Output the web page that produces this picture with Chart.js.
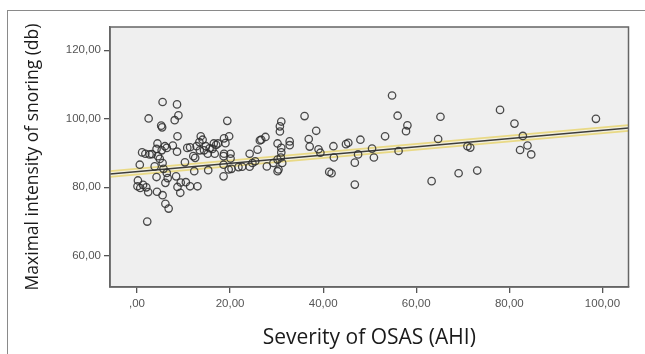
<!DOCTYPE html>
<html>
<head>
<meta charset="utf-8">
<script src="https://cdn.jsdelivr.net/npm/chart.js@4/dist/chart.umd.min.js"></script>
<style>
  html, body { margin: 0; padding: 0; background: #fff; }
  #chart { display: block; }
</style>
</head>
<body>
<canvas id="chart" width="645" height="354"></canvas>
<script>
// AHI (x) vs maximal snoring intensity in dB (y)
const AHI = [
  5.5, 8.6, 8.9, 2.5, 5.2, 5.4, 8.1, 8.7, 8.6, 7.7, 4.4, 6.0, 6.4, 5.3, 4.2, 4.5, 4.9,
  1.1, 1.8, 2.7, 3.2, 0.6, 3.8, 5.5, 5.7, 6.4, 4.2, 6.6, 8.4, 6.1, 0.2, 0.1, 0.7, 1.3,
  2.0, 2.4, 4.3, 5.5, 6.1, 6.8, 2.2, 8.7, 9.4, 9.3, 10.5, 11.4, 13.0, 10.3, 10.8, 11.4,
  12.1, 12.5, 12.8, 13.4, 13.7, 14.1, 13.5, 14.4, 14.8, 15.2, 15.6, 16.2, 16.5, 17.0,
  16.7, 15.3, 12.3, 17.4,
  19.4, 19.8, 18.7, 19.0, 18.7, 20.1, 20.1, 18.6, 18.6, 18.6, 19.7, 20.3, 22.6, 24.2,
  24.2, 24.8, 25.4, 25.9, 26.4, 27.6, 27.9, 30.2, 30.7, 30.7, 31.0, 30.2, 30.4, 30.2,
  31.0, 30.9, 31.2, 32.8, 32.8, 29.3, 21.8, 26.7, 31.0,
  36.0, 38.5, 36.9, 37.1, 39.4, 39.0, 41.3, 41.8, 42.2, 42.3, 44.9, 45.4, 48.0, 46.8,
  47.5, 46.8, 50.5, 50.9, 53.3, 54.8, 56.0, 56.2, 58.1, 57.8, 63.3, 64.7, 65.2, 69.1,
  71.0, 71.6, 73.1, 78.0, 81.1, 82.9, 82.3, 83.9, 84.7, 98.6
];
const SNORE_DB = [
  104.9, 104.2, 101.0, 100.1, 98.0, 97.5, 99.6, 94.9, 90.4, 92.2, 92.8, 92.0, 91.5, 90.8, 91.2, 89.1, 88.3,
  90.2, 89.8, 89.6, 89.7, 86.6, 86.1, 87.1, 85.4, 84.2, 83.0, 82.7, 83.2, 81.3, 82.0, 80.3, 79.8, 80.7,
  80.0, 78.6, 78.7, 77.7, 75.2, 73.8, 70.0, 80.1, 81.4, 78.4, 81.5, 80.3, 80.3, 87.3, 91.5, 91.7,
  89.1, 88.6, 92.0, 93.2, 94.9, 93.9, 90.8, 90.8, 92.0, 89.8, 91.4, 91.2, 92.8, 92.4,
  89.8, 85.0, 84.7, 92.8,
  99.4, 94.9, 94.3, 92.9, 89.8, 89.8, 88.4, 89.1, 86.6, 83.2, 85.2, 85.4, 86.0, 86.0,
  89.8, 87.1, 87.6, 91.0, 93.7, 94.7, 86.1, 92.8, 97.8, 96.3, 99.2, 88.1, 85.2, 84.7,
  90.2, 88.7, 87.1, 93.4, 92.3, 87.1, 85.9, 93.9, 91.5,
  100.8, 96.5, 94.1, 91.9, 90.1, 91.1, 84.5, 84.1, 92.0, 88.7, 92.6, 93.0, 93.9, 87.2,
  89.6, 80.8, 91.3, 88.7, 94.9, 106.8, 100.9, 90.6, 98.1, 96.4, 81.8, 94.1, 100.6, 84.1,
  92.0, 91.6, 84.9, 102.6, 98.6, 95.0, 90.9, 92.2, 89.6, 100.0
];

// linear fit line, ends at the plot edges
const FIT_X = [-5.8, 105.6];
const FIT_Y = [83.9, 97.3];

const X_TICKS = [0, 20, 40, 60, 80, 100];
const Y_TICKS = [60, 80, 100, 120];
const X_RANGE = [-5.8, 105.6];
const Y_RANGE = [50.9, 126.8];

const X_TITLE = 'Severity of OSAS (AHI)';
const Y_TITLE = 'Maximal intensity of snoring (db)';

const points = AHI.map((x, i) => ({ x, y: SNORE_DB[i] }));
const fitLine = FIT_X.map((x, i) => ({ x, y: FIT_Y[i] }));

/** SPSS writes decimals with a comma and drops the leading zero. */
const fmt = v => (v === 0 ? ',00' : v.toFixed(2).replace('.', ','));

const framePlugin = {
  id: 'frame',
  beforeDraw(chart) {
    const { ctx, chartArea: a } = chart;
    ctx.save();
    ctx.fillStyle = '#ffffff';
    ctx.fillRect(0, 0, chart.width, chart.height);
    ctx.strokeStyle = '#8a8a8a';
    ctx.lineWidth = 1;
    ctx.strokeRect(7.5, 10.5, chart.width + 10, chart.height + 10);
    ctx.fillStyle = '#efefef';
    ctx.fillRect(a.left, a.top, a.right - a.left, a.bottom - a.top);
    ctx.restore();
  },
  afterDatasetsDraw(chart) {
    const { ctx, chartArea: a } = chart;
    ctx.save();
    ctx.strokeStyle = '#666';
    ctx.lineWidth = 1.5;
    ctx.strokeRect(a.left, a.top, a.right - a.left, a.bottom - a.top);
    ctx.restore();
  },
};

const tickFont = { family: '"Liberation Sans", Arial, sans-serif', size: 11.5 };

new Chart(document.getElementById('chart'), {
  type: 'scatter',
  data: {
    datasets: [
      {
        data: points,
        pointStyle: 'circle',
        pointRadius: 3.7,
        borderWidth: 1.3,
        borderColor: 'rgba(45,45,45,0.85)',
        backgroundColor: 'rgba(0,0,0,0)',
        order: 0,
      },
      {
        data: fitLine,
        showLine: true,
        pointRadius: 0,
        borderColor: '#3d3d3d',
        borderWidth: 1.6,
        order: 1,
      },
      {
        data: fitLine,
        showLine: true,
        pointRadius: 0,
        borderColor: '#f2f0df',
        borderWidth: 4,
        order: 2,
      },
      {
        data: fitLine,
        showLine: true,
        pointRadius: 0,
        borderColor: '#e9d985',
        borderWidth: 7.5,
        order: 3,
      },
    ],
  },
  options: {
    responsive: false,
    animation: false,
    events: [],
    layout: { padding: { left: 0, right: 16.5, top: 27, bottom: 0 } },
    plugins: { legend: { display: false }, tooltip: { enabled: false } },
    scales: {
      x: {
        type: 'linear',
        min: X_RANGE[0],
        max: X_RANGE[1],
        afterBuildTicks: s => { s.ticks = X_TICKS.map(value => ({ value })); },
        afterFit: s => { s.height = 67; },
        grid: { drawOnChartArea: false, drawTicks: true, tickLength: 6, color: '#555', lineWidth: 1.3 },
        border: { display: true, color: '#666', width: 1.5 },
        ticks: { color: '#555', font: tickFont, padding: 4, maxRotation: 0, callback: fmt },
        title: {
          display: true,
          text: X_TITLE,
          color: '#1a1a1a',
          font: { family: '"Open Sans", sans-serif', size: 21 },
          padding: { top: 0, bottom: 3 },
          align: 'center',
        },
      },
      y: {
        type: 'linear',
        min: Y_RANGE[0],
        max: Y_RANGE[1],
        afterBuildTicks: s => { s.ticks = Y_TICKS.map(value => ({ value })); },
        afterFit: s => { s.width = 110; },
        grid: { drawOnChartArea: false, drawTicks: true, tickLength: 6, color: '#555', lineWidth: 1.3 },
        border: { display: true, color: '#666', width: 1.5 },
        ticks: { color: '#555', font: tickFont, padding: 3, callback: fmt },
        title: {
          display: true,
          text: Y_TITLE,
          color: '#1a1a1a',
          font: { family: '"Open Sans", sans-serif', size: 17.5 },
          padding: { top: 23, bottom: 0 },
        },
      },
    },
  },
  plugins: [framePlugin],
});
</script>
</body>
</html>
